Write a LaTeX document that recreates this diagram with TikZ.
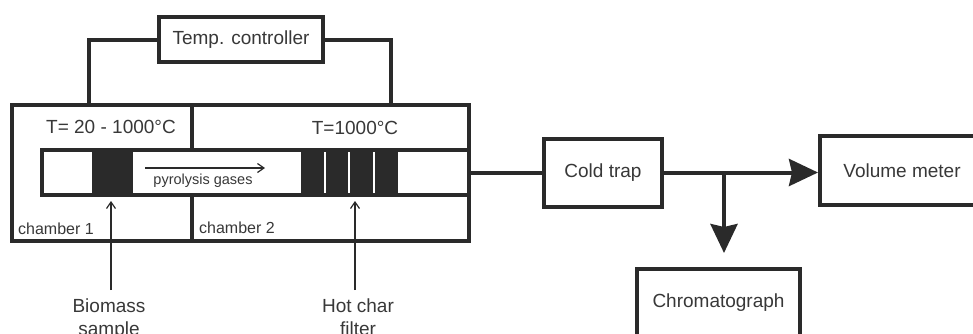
\documentclass[tikz,border=0pt]{standalone}
\usepackage{fontspec}
\setmainfont{Liberation Sans}
\usetikzlibrary{arrows.meta}

\definecolor{inkdark}{HTML}{2A2A2A}
\definecolor{inktext}{HTML}{383838}

\tikzset{
  unitbox/.style = {draw = inkdark, line width = 4pt, fill = white, inner sep = 0pt, text = inktext, font = \fontsize{19}{23}\selectfont},
  charbed/.style = {fill = inkdark, inner sep = 0pt, minimum height = 45pt},
  label/.style = {text = inktext, inner sep = 0pt, align = center, font = \fontsize{19}{23}\selectfont},
  smalllabel/.style = {text = inktext, inner sep = 0pt, font = \fontsize{16}{19}\selectfont},
  wire/.style = {draw = inkdark, line width = 4pt},
  bigarrow/.style = {wire, -{Stealth[length = 29pt, width = 27pt, inset = 3pt]}},
  thinarrow/.style = {draw = inkdark, line width = 1.2pt, -{Straight Barb[length = 6.5pt, width = 9pt]}}
}

\begin{document}
\begin{tikzpicture}[x = 1pt, y = -1pt]
    \path [use as bounding box, clip] (0,0) rectangle (973,333);

    \node [unitbox, minimum width = 180pt, minimum height = 136pt] (chamberone) at (102,173) {};
    \node [unitbox, minimum width = 277pt, minimum height = 136pt] (chambertwo) at (330.5,173) {};
    \node [unitbox, minimum width = 427pt, minimum height = 45pt] (tube) at (255.5,172.5) {};

    \node [charbed, minimum width = 41pt] (biomassbed) at (112.5,172.5) {};
    \node [charbed, minimum width = 97pt] (filterbed) at (349.5,172.5) {};
    \draw [white, line width = 2.5pt] (325,152) -- (325,193);
    \draw [white, line width = 2.5pt] (349,152) -- (349,193);
    \draw [white, line width = 2.5pt] (374,152) -- (374,193);

    \node [unitbox, minimum width = 164pt, minimum height = 45pt] (controller) at (241,39.5) {Temp. controller};
    \node [unitbox, minimum width = 118pt, minimum height = 68pt] (coldtrap) at (603,172.5) {Cold trap};
    \node [unitbox, minimum width = 164pt, minimum height = 69pt] (volumemeter) at (902,170.5) {Volume meter};
    \node [unitbox, minimum width = 163pt, minimum height = 67pt] (chromatograph) at (718.5,302.5) {Chromatograph};

    \node [label] (tempone) at (111,127) {T= 20 - 1000°C};
    \node [label] (temptwo) at (355,128) {T=1000°C};
    \node [smalllabel] (nameone) at (56,229) {chamber 1};
    \node [smalllabel] (nametwo) at (237,228) {chamber 2};
    \node [text = inktext, inner sep = 0pt, font = \fontsize{14.5}{17}\selectfont] (gases) at (203,181) {pyrolysis gases};
    \node [label] (biomass) at (109,319.5) {Biomass\\sample};
    \node [label] (hotchar) at (358,317.5) {Hot char\\filter};

    \coordinate (feedleft) at (89,103);
    \coordinate (feedright) at (391,103);
    \coordinate (gasstart) at (145,168);
    \coordinate (gasend) at (265,168);
    \coordinate (biomassfoot) at (111,290);
    \coordinate (biomasstip) at (111,201);
    \coordinate (hotcharfoot) at (355,290);
    \coordinate (hotchartip) at (355,201);
    \coordinate (branch) at (724,172.5);
    \coordinate (branchtip) at (724,253);

    \draw [wire] (controller.west) -| (feedleft);
    \draw [wire] (controller.east) -| (feedright);
    \draw [wire] (tube.east) -- (coldtrap.west);
    \draw [bigarrow] (coldtrap.east) -- (coldtrap.east -| volumemeter.west);
    \draw [bigarrow] (branch) -- (branchtip);

    \draw [thinarrow] (gasstart) -- (gasend);
    \draw [thinarrow] (biomassfoot) -- (biomasstip);
    \draw [thinarrow] (hotcharfoot) -- (hotchartip);
\end{tikzpicture}
\end{document}
